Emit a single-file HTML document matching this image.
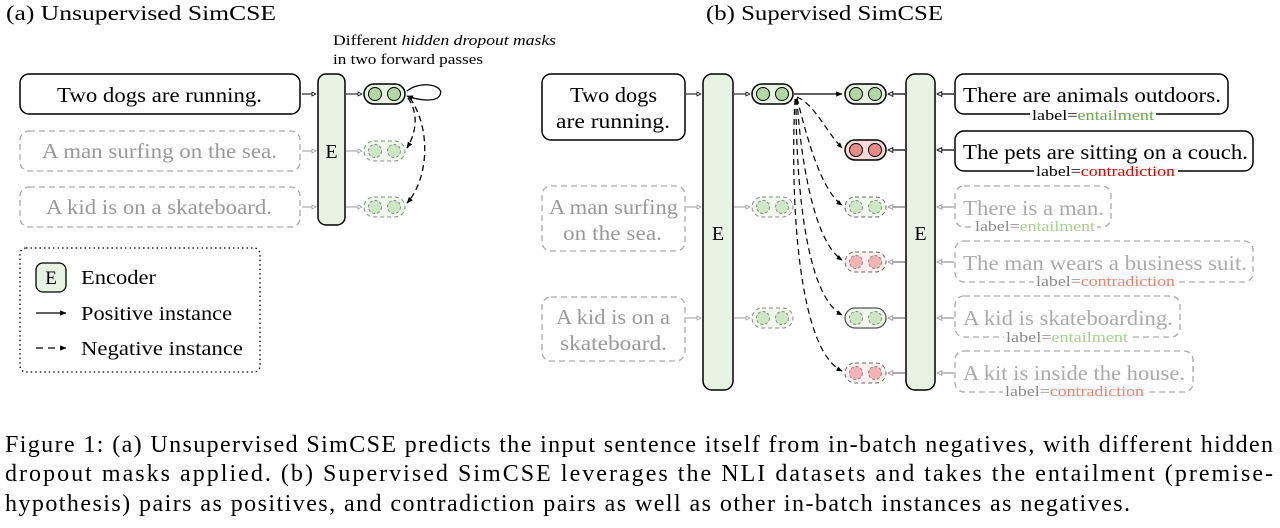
<!DOCTYPE html>
<html><head><meta charset="utf-8"><style>
html,body{margin:0;padding:0;background:#fff;}
svg{display:block;}
svg text{font-family:"Liberation Serif",serif;}
.cap{font-size:24px;fill:#000;}
</style></head><body>
<svg width="1280" height="528" viewBox="0 0 1280 528" xmlns="http://www.w3.org/2000/svg">
<defs>
<marker id="ah" viewBox="0 0 10 10" refX="9" refY="5" markerWidth="5" markerHeight="5" orient="auto"><path d="M0,1 L10,5 L0,9 z" fill="#000"/></marker>
<marker id="ao" viewBox="0 0 10 10" refX="9" refY="5" markerWidth="5" markerHeight="5" orient="auto"><path d="M1,1 L9,5 L1,9 z" fill="#fff" stroke="#000" stroke-width="1.5"/></marker>
<marker id="ag" viewBox="0 0 10 10" refX="9" refY="5" markerWidth="5" markerHeight="5" orient="auto"><path d="M1,1 L9,5 L1,9 z" fill="#fff" stroke="#999" stroke-width="1.5"/></marker>
</defs>
<text x="6" y="20" font-size="21" textLength="270" lengthAdjust="spacingAndGlyphs">(a) Unsupervised SimCSE</text>
<text x="706" y="20" font-size="21" textLength="237" lengthAdjust="spacingAndGlyphs">(b) Supervised SimCSE</text>
<!-- (a) -->
<text x="333" y="45" font-size="14.5" textLength="223" lengthAdjust="spacingAndGlyphs">Different <tspan font-style="italic">hidden dropout masks</tspan></text>
<text x="333" y="64" font-size="14.5" textLength="150" lengthAdjust="spacingAndGlyphs">in two forward passes</text>
<rect x="20" y="74" width="280" height="40" rx="9" fill="#fff" stroke="#000" stroke-width="1.5"/>
<text x="57" y="102" font-size="21" textLength="205" lengthAdjust="spacingAndGlyphs">Two dogs are running.</text>
<rect x="20" y="131" width="280" height="40" rx="9" fill="#fff" stroke="#aaa" stroke-width="1.3" stroke-dasharray="6,4"/>
<text x="42" y="158" font-size="21" fill="#999" textLength="235" lengthAdjust="spacingAndGlyphs">A man surfing on the sea.</text>
<rect x="20" y="187" width="280" height="40" rx="9" fill="#fff" stroke="#aaa" stroke-width="1.3" stroke-dasharray="6,4"/>
<text x="46" y="214" font-size="21" fill="#999" textLength="226" lengthAdjust="spacingAndGlyphs">A kid is on a skateboard.</text>
<rect x="318" y="74" width="27" height="151" rx="8" fill="#e7f2e3" stroke="#000" stroke-width="1.5"/>
<text x="331.5" y="158" font-size="20" text-anchor="middle">E</text>
<line x1="302" y1="94" x2="316" y2="94" stroke="#000" marker-end="url(#ao)"/>
<line x1="302" y1="151" x2="316" y2="151" stroke="#999" marker-end="url(#ag)"/>
<line x1="302" y1="207" x2="316" y2="207" stroke="#999" marker-end="url(#ag)"/>
<line x1="346" y1="94" x2="362" y2="94" stroke="#000" marker-end="url(#ao)"/>
<line x1="346" y1="151" x2="362" y2="151" stroke="#999" marker-end="url(#ag)"/>
<line x1="346" y1="207" x2="362" y2="207" stroke="#999" marker-end="url(#ag)"/>
<g>
<rect x="364" y="84" width="41" height="20" rx="10" fill="#e7f2e3" stroke="#000" stroke-width="1.5"/>
<circle cx="375" cy="94" r="6.5" fill="#b2d6a4" stroke="#000"/><circle cx="394" cy="94" r="6.5" fill="#b2d6a4" stroke="#000"/>
<rect x="364" y="141" width="41" height="20" rx="10" fill="#f0f7ed" stroke="#888" stroke-dasharray="4,3"/>
<circle cx="375" cy="151" r="6.5" fill="#cfe6c6" stroke="#888" stroke-dasharray="3,2"/><circle cx="394" cy="151" r="6.5" fill="#cfe6c6" stroke="#888" stroke-dasharray="3,2"/>
<rect x="364" y="197" width="41" height="20" rx="10" fill="#f0f7ed" stroke="#888" stroke-dasharray="4,3"/>
<circle cx="375" cy="207" r="6.5" fill="#cfe6c6" stroke="#888" stroke-dasharray="3,2"/><circle cx="394" cy="207" r="6.5" fill="#cfe6c6" stroke="#888" stroke-dasharray="3,2"/>
</g>
<path d="M407,91 C420,80 445,85 440,95 C436,103 418,100 407,96" fill="none" stroke="#000" stroke-width="1.3" marker-end="url(#ah)"/>
<path d="M408,98 C420,115 415,135 407,148" fill="none" stroke="#000" stroke-width="1.3" stroke-dasharray="6,4" marker-end="url(#ah)"/>
<path d="M410,98 C432,130 428,180 407,203" fill="none" stroke="#000" stroke-width="1.3" stroke-dasharray="6,4" marker-end="url(#ah)"/>
<!-- legend -->
<rect x="20" y="248" width="240" height="124" rx="6" fill="none" stroke="#000" stroke-width="1.3" stroke-dasharray="1.5,3"/>
<rect x="36" y="263" width="30" height="29" rx="7" fill="#e7f2e3" stroke="#000" stroke-width="1.3"/>
<text x="51" y="284" font-size="19" text-anchor="middle">E</text>
<text x="81" y="284" font-size="20" textLength="75" lengthAdjust="spacingAndGlyphs">Encoder</text>
<line x1="36" y1="313" x2="66" y2="313" stroke="#000" stroke-width="1.3" marker-end="url(#ah)"/>
<text x="81" y="320" font-size="20" textLength="151" lengthAdjust="spacingAndGlyphs">Positive instance</text>
<line x1="36" y1="348" x2="66" y2="348" stroke="#000" stroke-width="1.3" stroke-dasharray="7,5" marker-end="url(#ah)"/>
<text x="81" y="355" font-size="20" textLength="162" lengthAdjust="spacingAndGlyphs">Negative instance</text>
<!-- (b) -->
<rect x="542" y="74" width="143" height="66" rx="9" fill="#fff" stroke="#000" stroke-width="1.5"/>
<text x="570" y="102" font-size="21" textLength="87" lengthAdjust="spacingAndGlyphs">Two dogs</text>
<text x="556" y="128" font-size="21" textLength="114" lengthAdjust="spacingAndGlyphs">are running.</text>
<rect x="542" y="186" width="143" height="65" rx="9" fill="#fff" stroke="#aaa" stroke-width="1.3" stroke-dasharray="6,4"/>
<text x="549" y="214" font-size="21" fill="#999" textLength="129" lengthAdjust="spacingAndGlyphs">A man surfing</text>
<text x="563" y="240" font-size="21" fill="#999" textLength="99" lengthAdjust="spacingAndGlyphs">on the sea.</text>
<rect x="542" y="297" width="143" height="64" rx="9" fill="#fff" stroke="#aaa" stroke-width="1.3" stroke-dasharray="6,4"/>
<text x="556" y="324" font-size="21" fill="#999" textLength="114" lengthAdjust="spacingAndGlyphs">A kid is on a</text>
<text x="560" y="350" font-size="21" fill="#999" textLength="107" lengthAdjust="spacingAndGlyphs">skateboard.</text>
<rect x="703" y="74" width="30" height="316" rx="9" fill="#e7f2e3" stroke="#000" stroke-width="1.5"/>
<text x="718" y="240" font-size="20" text-anchor="middle">E</text>
<rect x="906" y="74" width="29" height="316" rx="9" fill="#e7f2e3" stroke="#000" stroke-width="1.5"/>
<text x="920.5" y="240" font-size="20" text-anchor="middle">E</text>
<line x1="686" y1="94" x2="701" y2="94" stroke="#000" marker-end="url(#ao)"/>
<line x1="686" y1="207" x2="701" y2="207" stroke="#999" marker-end="url(#ag)"/>
<line x1="686" y1="318" x2="701" y2="318" stroke="#999" marker-end="url(#ag)"/>
<line x1="734" y1="94" x2="750" y2="94" stroke="#000" marker-end="url(#ao)"/>
<line x1="734" y1="207" x2="750" y2="207" stroke="#999" marker-end="url(#ag)"/>
<line x1="734" y1="318" x2="750" y2="318" stroke="#999" marker-end="url(#ag)"/>
<rect x="752" y="84" width="41" height="20" rx="10" fill="#e7f2e3" stroke="#000" stroke-width="1.5"/>
<circle cx="763" cy="94" r="6.5" fill="#b2d6a4" stroke="#000"/><circle cx="782" cy="94" r="6.5" fill="#b2d6a4" stroke="#000"/>
<rect x="752" y="197" width="41" height="20" rx="10" fill="#f0f7ed" stroke="#888" stroke-dasharray="4,3"/>
<circle cx="763" cy="207" r="6.5" fill="#cfe6c6" stroke="#888" stroke-dasharray="3,2"/><circle cx="782" cy="207" r="6.5" fill="#cfe6c6" stroke="#888" stroke-dasharray="3,2"/>
<rect x="752" y="308" width="41" height="20" rx="10" fill="#f0f7ed" stroke="#888" stroke-dasharray="4,3"/>
<circle cx="763" cy="318" r="6.5" fill="#cfe6c6" stroke="#888" stroke-dasharray="3,2"/><circle cx="782" cy="318" r="6.5" fill="#cfe6c6" stroke="#888" stroke-dasharray="3,2"/>
<!-- right pills -->
<rect x="845" y="84" width="41" height="20" rx="10" fill="#e7f2e3" stroke="#000" stroke-width="1.5"/>
<circle cx="856" cy="94" r="6.5" fill="#b2d6a4" stroke="#000"/><circle cx="875" cy="94" r="6.5" fill="#b2d6a4" stroke="#000"/>
<rect x="845" y="140" width="41" height="20" rx="10" fill="#f7dada" stroke="#000" stroke-width="1.5"/>
<circle cx="856" cy="150" r="6.5" fill="#e68a8a" stroke="#000"/><circle cx="875" cy="150" r="6.5" fill="#e68a8a" stroke="#000"/>
<rect x="845" y="197" width="41" height="20" rx="10" fill="#f0f7ed" stroke="#666" stroke-dasharray="4,3"/>
<circle cx="856" cy="207" r="6.5" fill="#cfe6c6" stroke="#888" stroke-dasharray="3,2"/><circle cx="875" cy="207" r="6.5" fill="#cfe6c6" stroke="#888" stroke-dasharray="3,2"/>
<rect x="845" y="252" width="41" height="20" rx="10" fill="#fbeeee" stroke="#666" stroke-dasharray="4,3"/>
<circle cx="856" cy="262" r="6.5" fill="#f0b4b4" stroke="#888" stroke-dasharray="3,2"/><circle cx="875" cy="262" r="6.5" fill="#f0b4b4" stroke="#888" stroke-dasharray="3,2"/>
<rect x="845" y="308" width="41" height="20" rx="10" fill="#f0f7ed" stroke="#555" stroke-width="1.3"/>
<circle cx="856" cy="318" r="6.5" fill="#cfe6c6" stroke="#888" stroke-dasharray="3,2"/><circle cx="875" cy="318" r="6.5" fill="#cfe6c6" stroke="#888" stroke-dasharray="3,2"/>
<rect x="845" y="363" width="41" height="20" rx="10" fill="#fbeeee" stroke="#666" stroke-dasharray="4,3"/>
<circle cx="856" cy="373" r="6.5" fill="#f0b4b4" stroke="#888" stroke-dasharray="3,2"/><circle cx="875" cy="373" r="6.5" fill="#f0b4b4" stroke="#888" stroke-dasharray="3,2"/>
<g stroke="#000" stroke-width="1.2">
<line x1="905" y1="94" x2="888" y2="94" marker-end="url(#ao)"/>
<line x1="905" y1="150" x2="888" y2="150" marker-end="url(#ao)"/>
<line x1="905" y1="207" x2="888" y2="207" stroke="#777" marker-end="url(#ag)"/>
<line x1="905" y1="262" x2="888" y2="262" stroke="#777" marker-end="url(#ag)"/>
<line x1="905" y1="318" x2="888" y2="318" stroke="#777" marker-end="url(#ag)"/>
<line x1="905" y1="373" x2="888" y2="373" stroke="#777" marker-end="url(#ag)"/>
<line x1="954" y1="94" x2="937" y2="94" marker-end="url(#ao)"/>
<line x1="954" y1="150" x2="937" y2="150" marker-end="url(#ao)"/>
<line x1="954" y1="207" x2="937" y2="207" stroke="#999" marker-end="url(#ag)"/>
<line x1="954" y1="262" x2="937" y2="262" stroke="#999" marker-end="url(#ag)"/>
<line x1="954" y1="318" x2="937" y2="318" stroke="#999" marker-end="url(#ag)"/>
<line x1="954" y1="373" x2="937" y2="373" stroke="#999" marker-end="url(#ag)"/>
</g>
<line x1="794" y1="94" x2="842" y2="94" stroke="#000" stroke-width="1.3" marker-end="url(#ah)"/>
<g fill="none" stroke="#000" stroke-width="1.2" stroke-dasharray="6,4">
<path d="M797,97 C815,105 825,130 842,148" marker-end="url(#ah)"/>
<path d="M797,98 C805,130 820,190 842,205" marker-end="url(#ah)"/>
<path d="M797,99 C800,150 812,240 842,260" marker-end="url(#ah)"/>
<path d="M796,99 C796,180 805,295 842,315" marker-end="url(#ah)"/>
<path d="M795,99 C790,200 798,350 842,371" marker-end="url(#ah)"/>
</g>
<!-- right sentences -->
<rect x="955" y="74" width="273" height="40" rx="9" fill="#fff" stroke="#000" stroke-width="1.5"/>
<text x="963" y="102" font-size="21" textLength="258" lengthAdjust="spacingAndGlyphs">There are animals outdoors.</text>
<rect x="1030" y="107" width="126" height="14" fill="#fff"/>
<text x="1032" y="120" font-size="15" textLength="122" lengthAdjust="spacingAndGlyphs">label=<tspan fill="#6aa84f">entailment</tspan></text>
<rect x="955" y="131" width="298" height="40" rx="9" fill="#fff" stroke="#000" stroke-width="1.5"/>
<text x="963" y="159" font-size="21" textLength="285" lengthAdjust="spacingAndGlyphs">The pets are sitting on a couch.</text>
<rect x="1034" y="164" width="144" height="14" fill="#fff"/>
<text x="1036" y="176" font-size="15" textLength="139" lengthAdjust="spacingAndGlyphs">label=<tspan fill="#e00000">contradiction</tspan></text>
<g stroke="#aaa" stroke-width="1.3" stroke-dasharray="6,4" fill="#fff">
<rect x="955" y="186" width="156" height="41" rx="9"/>
<rect x="955" y="241" width="298" height="41" rx="9"/>
<rect x="955" y="296" width="225" height="41" rx="9"/>
<rect x="955" y="351" width="238" height="41" rx="9"/>
</g>
<g fill="#aaa">
<text x="963" y="215" font-size="21" textLength="141" lengthAdjust="spacingAndGlyphs">There is a man.</text>
<rect x="973" y="219" width="124" height="14" fill="#fff"/>
<text x="975" y="231" font-size="15" fill="#888" textLength="120" lengthAdjust="spacingAndGlyphs">label=<tspan fill="#a8d08d">entailment</tspan></text>
<text x="963" y="270" font-size="21" textLength="284" lengthAdjust="spacingAndGlyphs">The man wears a business suit.</text>
<rect x="1034" y="274" width="144" height="14" fill="#fff"/>
<text x="1036" y="286" font-size="15" fill="#888" textLength="139" lengthAdjust="spacingAndGlyphs">label=<tspan fill="#f08070">contradiction</tspan></text>
<text x="963" y="325" font-size="21" textLength="210" lengthAdjust="spacingAndGlyphs">A kid is skateboarding.</text>
<rect x="1004" y="329" width="126" height="14" fill="#fff"/>
<text x="1006" y="342" font-size="15" fill="#888" textLength="122" lengthAdjust="spacingAndGlyphs">label=<tspan fill="#a8d08d">entailment</tspan></text>
<text x="963" y="380" font-size="21" textLength="222" lengthAdjust="spacingAndGlyphs">A kit is inside the house.</text>
<rect x="1003" y="384" width="144" height="14" fill="#fff"/>
<text x="1005" y="396" font-size="15" fill="#888" textLength="139" lengthAdjust="spacingAndGlyphs">label=<tspan fill="#f08070">contradiction</tspan></text>
</g>
<!-- caption -->
<text class="cap" x="5" y="452" textLength="1268" lengthAdjust="spacing">Figure 1: (a) Unsupervised SimCSE predicts the input sentence itself from in-batch negatives, with different hidden</text>
<text class="cap" x="5" y="481" textLength="1268" lengthAdjust="spacing">dropout masks applied.  (b) Supervised SimCSE leverages the NLI datasets and takes the entailment (premise-</text>
<text class="cap" x="5" y="511" textLength="1125" lengthAdjust="spacing">hypothesis) pairs as positives, and contradiction pairs as well as other in-batch instances as negatives.</text>
</svg>
</body></html>
